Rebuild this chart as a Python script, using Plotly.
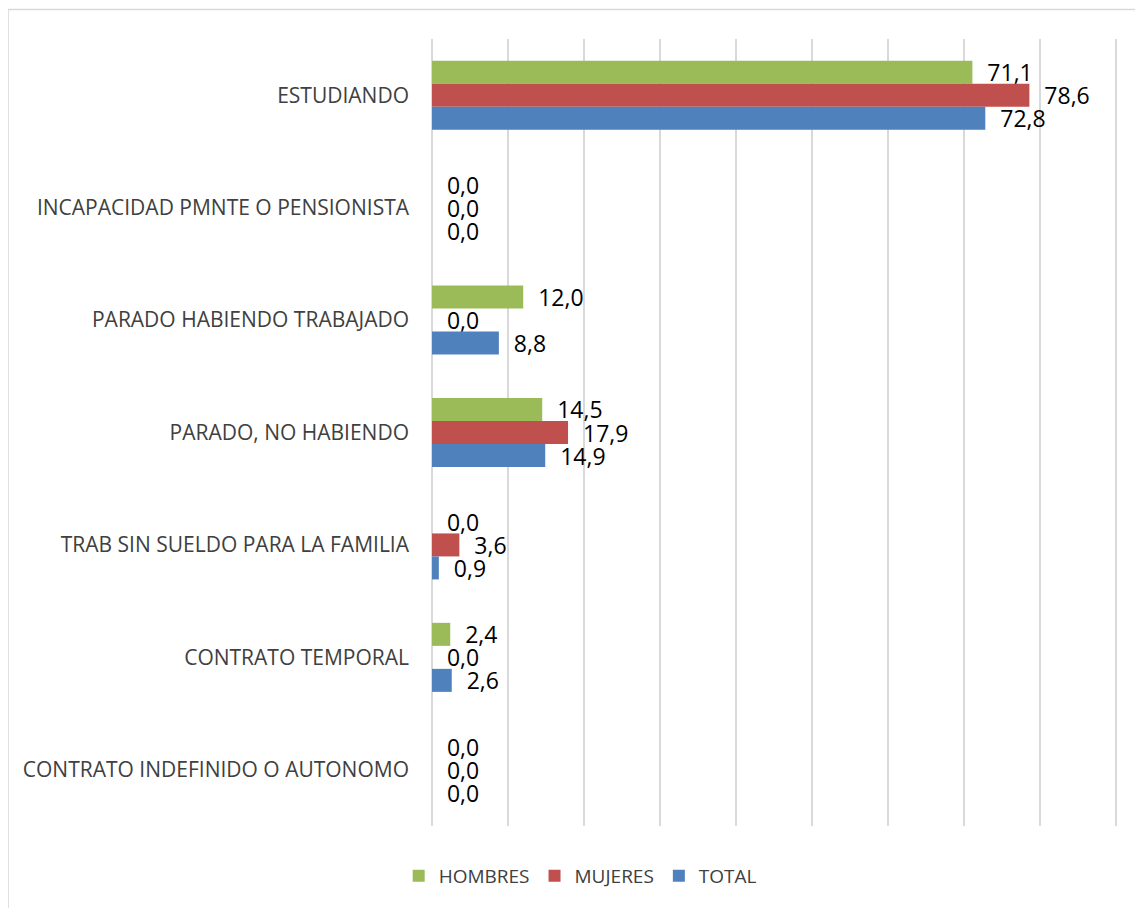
import plotly.graph_objects as go

categories = [
    "ESTUDIANDO",
    "INCAPACIDAD PMNTE O PENSIONISTA",
    "PARADO HABIENDO TRABAJADO",
    "PARADO, NO HABIENDO",
    "TRAB SIN SUELDO PARA LA FAMILIA",
    "CONTRATO TEMPORAL",
    "CONTRATO INDEFINIDO O AUTONOMO",
]
hombres = [71.1, 0.0, 12.0, 14.5, 0.0, 2.4, 0.0]
mujeres = [78.6, 0.0, 0.0, 17.9, 3.6, 0.0, 0.0]
total = [72.8, 0.0, 8.8, 14.9, 0.9, 2.6, 0.0]

series = [
    ("HOMBRES", hombres, "#9BBB59"),
    ("MUJERES", mujeres, "#C0504D"),
    ("TOTAL", total, "#4F81BD"),
]

FONT = "Open Sans"
fig = go.Figure()
for name, vals, color in series:
    fig.add_trace(go.Bar(
        y=categories, x=vals, name=name, orientation="h",
        marker=dict(color=color, line=dict(width=0)),
        text=vals, texttemplate="\u00a0\u00a0%{x:.1f}", textposition="outside",
        textfont=dict(family=FONT, size=23, color="#000000"),
        constraintext="none", cliponaxis=False,
    ))

fig.update_layout(
    width=1135, height=900,
    margin=dict(l=424, r=25, t=31, b=82),
    paper_bgcolor="white", plot_bgcolor="white",
    barmode="group", bargap=0.386, bargroupgap=0,
    separators=",.",
    font=dict(family=FONT, color="#404040"),
    legend=dict(orientation="h", x=0.2160, xanchor="center", y=-0.0635, yanchor="middle",
                font=dict(family=FONT, size=19, color="#404040")),
    xaxis=dict(range=[0, 90.26], tickvals=[0, 10, 20, 30, 40, 50, 60, 70, 80, 90],
               showticklabels=False, showgrid=True,
               gridcolor="#D9D9D9", gridwidth=1.5, zeroline=True,
               zerolinecolor="#D9D9D9", zerolinewidth=1.5, showline=False),
    yaxis=dict(autorange="reversed", showgrid=False, ticks="", ticklabelstandoff=22,
               tickfont=dict(family=FONT, size=21, color="#404040")),
    shapes=[
        dict(type="line", xref="paper", yref="paper", x0=-0.618, x1=1.1, y0=1.0375, y1=1.0375,
             line=dict(color="#D9D9D9", width=1.5)),
        dict(type="line", xref="paper", yref="paper", x0=-0.618, x1=-0.618, y0=1.0375, y1=-0.2,
             line=dict(color="#D9D9D9", width=1.5)),
    ],
)

fig.write_html("out.html")
